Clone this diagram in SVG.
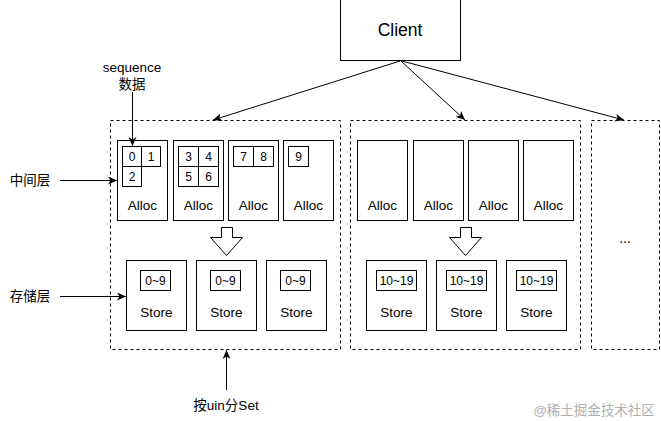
<svg xmlns="http://www.w3.org/2000/svg" width="661" height="421" viewBox="0 0 661 421">
<style>
.bx{fill:#fff;stroke:#000;stroke-width:1}
.grp{fill:none;stroke:#000;stroke-width:1;stroke-dasharray:3,3}
.t{font-family:"Liberation Sans",Arial,"Noto Sans CJK SC",sans-serif;fill:#000;text-anchor:middle;dominant-baseline:central}
.lbl{font-size:13.5px}
.sm{font-size:12px}
.ln{fill:none;stroke:#000;stroke-width:1}
.blk{fill:#fff;stroke:#000;stroke-width:1}
</style>
<defs>
<marker id="ah" markerUnits="userSpaceOnUse" markerWidth="10" markerHeight="8" refX="9" refY="4" orient="auto">
<path d="M0,0 L9,4 L0,8 L2.5,4 Z" fill="#000"/>
</marker>
</defs>
<rect width="661" height="421" fill="#fff"/>

<g id="group-1"><rect class="grp" x="110.5" y="120.5" width="230" height="229"/></g>
<g id="group-2"><rect class="grp" x="350.5" y="120.5" width="230" height="229"/></g>
<g id="group-3"><rect class="grp" x="591.5" y="120.5" width="68" height="229"/><text class="t" x="625" y="238" font-size="14">...</text></g>

<g id="client"><rect class="bx" x="340.5" y="-0.5" width="120" height="61"/><text class="t" x="400" y="30" font-size="17.5">Client</text></g>

<g id="alloc-1"><rect class="bx" x="117.5" y="140.5" width="50" height="80"/>
<rect class="bx" x="122.5" y="146.5" width="19" height="20"/><text class="t sm" x="132" y="156.5">0</text>
<rect class="bx" x="141.5" y="146.5" width="19" height="20"/><text class="t sm" x="151" y="156.5">1</text>
<rect class="bx" x="122.5" y="166.5" width="19" height="20"/><text class="t sm" x="132" y="176.5">2</text>
<text class="t lbl" x="142.5" y="205">Alloc</text></g>
<g id="alloc-2"><rect class="bx" x="173.5" y="140.5" width="50" height="80"/>
<rect class="bx" x="178.5" y="146.5" width="20" height="20"/><text class="t sm" x="188.5" y="156.5">3</text>
<rect class="bx" x="198.5" y="146.5" width="20" height="20"/><text class="t sm" x="208.5" y="156.5">4</text>
<rect class="bx" x="178.5" y="166.5" width="20" height="20"/><text class="t sm" x="188.5" y="176.5">5</text>
<rect class="bx" x="198.5" y="166.5" width="20" height="20"/><text class="t sm" x="208.5" y="176.5">6</text>
<text class="t lbl" x="198.5" y="205">Alloc</text></g>
<g id="alloc-3"><rect class="bx" x="228.5" y="140.5" width="50" height="80"/>
<rect class="bx" x="233.5" y="146.5" width="20" height="20"/><text class="t sm" x="243.5" y="156.5">7</text>
<rect class="bx" x="253.5" y="146.5" width="20" height="20"/><text class="t sm" x="263.5" y="156.5">8</text>
<text class="t lbl" x="253.5" y="205">Alloc</text></g>
<g id="alloc-4"><rect class="bx" x="283.5" y="140.5" width="50" height="80"/>
<rect class="bx" x="288.5" y="146.5" width="20" height="20"/><text class="t sm" x="298.5" y="156.5">9</text>
<text class="t lbl" x="308.5" y="205">Alloc</text></g>

<g id="alloc-5"><rect class="bx" x="357.5" y="140.5" width="50" height="80"/><text class="t lbl" x="382.5" y="205">Alloc</text></g>
<g id="alloc-6"><rect class="bx" x="413.5" y="140.5" width="50" height="80"/><text class="t lbl" x="438.5" y="205">Alloc</text></g>
<g id="alloc-7"><rect class="bx" x="468.5" y="140.5" width="50" height="80"/><text class="t lbl" x="493.5" y="205">Alloc</text></g>
<g id="alloc-8"><rect class="bx" x="523.5" y="140.5" width="50" height="80"/><text class="t lbl" x="548.5" y="205">Alloc</text></g>

<g id="store-1"><rect class="bx" x="126.5" y="260.5" width="60" height="70"/><rect class="bx" x="140.5" y="270.5" width="30" height="20"/><text class="t sm" x="155.5" y="280.5">0~9</text><text class="t lbl" x="156.5" y="312">Store</text></g>
<g id="store-2"><rect class="bx" x="196.5" y="260.5" width="60" height="70"/><rect class="bx" x="210.5" y="270.5" width="30" height="20"/><text class="t sm" x="225.5" y="280.5">0~9</text><text class="t lbl" x="226.5" y="312">Store</text></g>
<g id="store-3"><rect class="bx" x="266.5" y="260.5" width="60" height="70"/><rect class="bx" x="280.5" y="270.5" width="30" height="20"/><text class="t sm" x="295.5" y="280.5">0~9</text><text class="t lbl" x="296.5" y="312">Store</text></g>

<g id="store-4"><rect class="bx" x="366.5" y="260.5" width="60" height="70"/><rect class="bx" x="376.5" y="270.5" width="40" height="20"/><text class="t sm" x="396.5" y="280.5">10~19</text><text class="t lbl" x="396.5" y="312">Store</text></g>
<g id="store-5"><rect class="bx" x="436.5" y="260.5" width="60" height="70"/><rect class="bx" x="446.5" y="270.5" width="40" height="20"/><text class="t sm" x="466.5" y="280.5">10~19</text><text class="t lbl" x="466.5" y="312">Store</text></g>
<g id="store-6"><rect class="bx" x="506.5" y="260.5" width="60" height="70"/><rect class="bx" x="516.5" y="270.5" width="40" height="20"/><text class="t sm" x="536.5" y="280.5">10~19</text><text class="t lbl" x="536.5" y="312">Store</text></g>

<g id="block-arrow-1"><polygon class="blk" points="221.5,227.5 232.5,227.5 232.5,237.5 242.5,237.5 226.5,255.5 210.5,237.5 221.5,237.5"/></g>
<g id="block-arrow-2"><polygon class="blk" points="460.5,227.5 471.5,227.5 471.5,237.5 481.5,237.5 465.5,255.5 449.5,237.5 460.5,237.5"/></g>

<g id="label-sequence"><text class="t" x="132" y="67" font-size="13.5">sequence</text><text class="t" x="132" y="84" font-size="13.5">数据</text></g>
<g id="label-middle"><text class="t lbl" x="30" y="180">中间层</text></g>
<g id="label-storage"><text class="t lbl" x="30" y="296">存储层</text></g>
<g id="label-set"><text class="t lbl" x="226" y="405">按uin分Set</text></g>
<g id="watermark"><text class="t" x="594" y="410" font-size="13.5" fill="#b0b0b0" style="fill:#b0b0b0">@稀土掘金技术社区</text></g>

<g id="connectors">
<line class="ln" x1="400" y1="61" x2="213" y2="120" marker-end="url(#ah)"/>
<line class="ln" x1="401" y1="61" x2="465" y2="120" marker-end="url(#ah)"/>
<line class="ln" x1="402" y1="61" x2="624" y2="120" marker-end="url(#ah)"/>
<line class="ln" x1="132.5" y1="92" x2="132.5" y2="146" marker-end="url(#ah)"/>
<line class="ln" x1="60" y1="180.5" x2="117" y2="180.5" marker-end="url(#ah)"/>
<line class="ln" x1="60" y1="296.5" x2="126" y2="296.5" marker-end="url(#ah)"/>
<line class="ln" x1="226.5" y1="390" x2="226.5" y2="350" marker-end="url(#ah)"/>
</g>
</svg>
